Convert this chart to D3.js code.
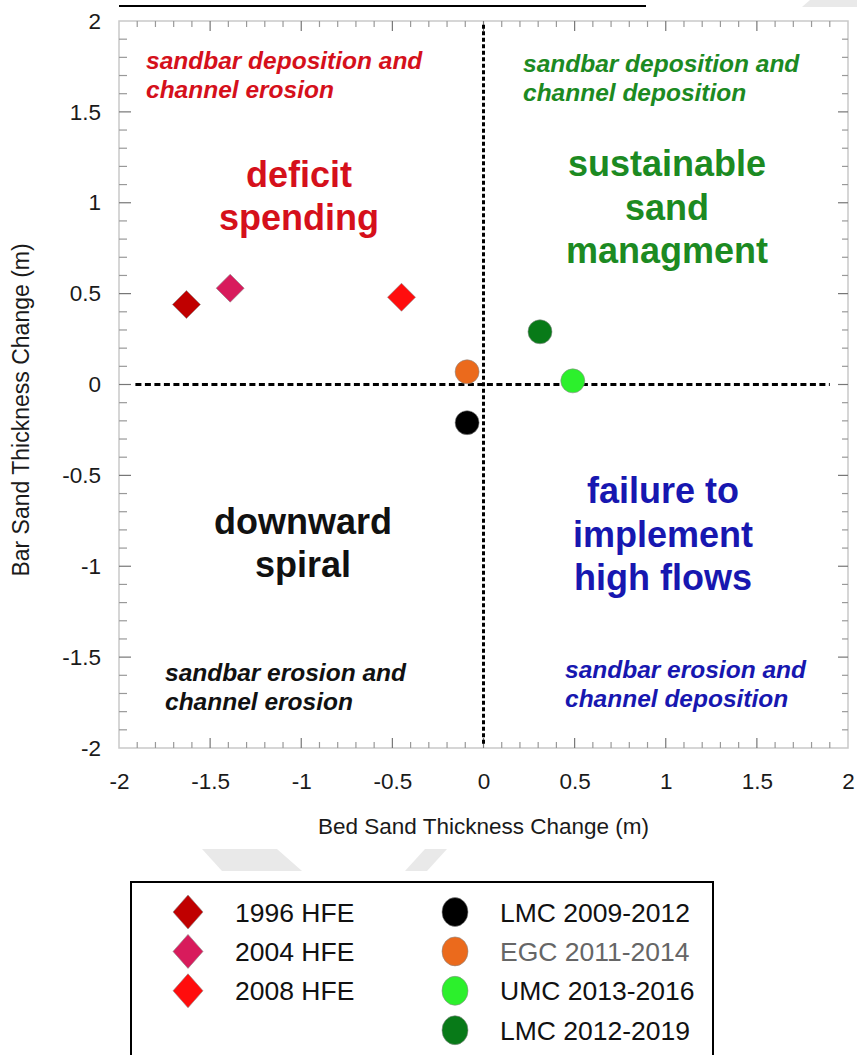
<!DOCTYPE html>
<html>
<head>
<meta charset="utf-8">
<script src="https://cdn.jsdelivr.net/npm/d3@7/dist/d3.min.js"></script>
<style>
  html, body { margin: 0; padding: 0; background: #fff; }
  svg { display: block; font-family: "Liberation Sans", Arial, Helvetica, sans-serif; }
</style>
</head>
<body>
<svg id="chart" width="857" height="1055"></svg>
<script>
// High-flow experiments (diamonds)
const hfeLabels = ["1996 HFE", "2004 HFE", "2008 HFE"];
const hfeBed = [-1.63, -1.39, -0.45];
const hfeBar = [0.44, 0.53, 0.48];

// Monitoring periods (circles)
const periodLabels = ["LMC 2009-2012", "EGC 2011-2014", "UMC 2013-2016", "LMC 2012-2019"];
const periodBed = [-0.09, -0.09, 0.49, 0.31];
const periodBar = [-0.21, 0.07, 0.02, 0.29];

// Axis ticks
const xTickValues = [-2, -1.5, -1, -0.5, 0, 0.5, 1, 1.5, 2];
const xTickLabels = ["-2", "-1.5", "-1", "-0.5", "0", "0.5", "1", "1.5", "2"];
const yTickValues = [2, 1.5, 1, 0.5, 0, -0.5, -1, -1.5, -2];
const yTickLabels = ["2", "1.5", "1", "0.5", "0", "-0.5", "-1", "-1.5", "-2"];

// Quadrant captions
const captionTL = ["sandbar deposition and", "channel erosion"];
const captionTR = ["sandbar deposition and", "channel deposition"];
const captionBL = ["sandbar erosion and", "channel erosion"];
const captionBR = ["sandbar erosion and", "channel deposition"];
const headTL = ["deficit", "spending"];
const headTR = ["sustainable", "sand", "managment"];
const headBL = ["downward", "spiral"];
const headBR = ["failure to", "implement", "high flows"];

const hfeColors = ["#c00000", "#d81b5c", "#ff0d0d"];
const periodColors = ["#000000", "#eb6a1c", "#2cf02c", "#087a18"];
const periodTextColors = ["#111", "#666", "#111", "#111"];

const svg = d3.select("#chart");

const x = d3.scaleLinear().domain([-2, 2]).range([119, 848]);
const y = d3.scaleLinear().domain([-2, 2]).range([748, 21]);

// faint background shapes
const wm = svg.append("g").attr("fill", "#e9e9e9");
wm.append("polygon").attr("points", "810,0 857,0 857,7 802,7");
wm.append("polygon").attr("points", "202,849 277,849 302,871 222,871");
wm.append("polygon").attr("points", "425,849 447,849 427,871 405,871");

// rule above the plot
svg.append("line")
  .attr("x1", 119).attr("x2", 646).attr("y1", 6).attr("y2", 6)
  .attr("stroke", "#000").attr("stroke-width", 2);

// plot frame
svg.append("rect")
  .attr("x", x(-2)).attr("y", y(2))
  .attr("width", x(2) - x(-2)).attr("height", y(-2) - y(2))
  .attr("fill", "none").attr("stroke", "#c9c9c9").attr("stroke-width", 1.5);

// inward tick marks every 0.1, longer at every 0.5
const minor = d3.range(-20, 21).map(i => i / 10);
const isMajor = v => Math.abs(v * 2 - Math.round(v * 2)) < 1e-6;
const tg = svg.append("g");
minor.forEach(v => {
  const maj = isMajor(v);
  const len = maj ? 10 : 6;
  const col = maj ? "#777" : "#999";
  if (v > -2 && v < 2) {
    tg.append("line").attr("x1", x(v)).attr("x2", x(v)).attr("y1", y(-2)).attr("y2", y(-2) - len)
      .attr("stroke", col).attr("stroke-width", 1.2);
    tg.append("line").attr("x1", x(v)).attr("x2", x(v)).attr("y1", y(2)).attr("y2", y(2) + len)
      .attr("stroke", col).attr("stroke-width", 1.2);
    tg.append("line").attr("y1", y(v)).attr("y2", y(v)).attr("x1", x(-2)).attr("x2", x(-2) + len + 2)
      .attr("stroke", col).attr("stroke-width", 1.2);
    tg.append("line").attr("y1", y(v)).attr("y2", y(v)).attr("x1", x(2)).attr("x2", x(2) - len)
      .attr("stroke", col).attr("stroke-width", 1.2);
  }
});

// tick labels through d3 axes
const xAxis = svg.append("g")
  .attr("transform", `translate(0,${y(-2) + 20})`)
  .call(d3.axisBottom(x).tickValues(xTickValues).tickSize(0)
    .tickFormat((d, i) => xTickLabels[i]));
xAxis.select(".domain").remove();
xAxis.selectAll("text").attr("font-size", 22.5).attr("fill", "#1a1a1a")
  .attr("font-family", "Liberation Sans, Arial, sans-serif").attr("dy", "0.8em");

const yAxis = svg.append("g")
  .attr("transform", `translate(${x(-2) - 15},0)`)
  .call(d3.axisLeft(y).tickValues(yTickValues).tickSize(0)
    .tickFormat((d, i) => yTickLabels[i]));
yAxis.select(".domain").remove();
yAxis.selectAll("text").attr("font-size", 22.5).attr("fill", "#1a1a1a")
  .attr("font-family", "Liberation Sans, Arial, sans-serif");

// axis titles
svg.append("text")
  .attr("x", x(0)).attr("y", 834)
  .attr("text-anchor", "middle").attr("font-size", 22.5).attr("fill", "#1a1a1a")
  .text("Bed Sand Thickness Change (m)");
svg.append("text")
  .attr("transform", "translate(29,410) rotate(-90)")
  .attr("text-anchor", "middle").attr("font-size", 23).attr("fill", "#1a1a1a")
  .text("Bar Sand Thickness Change (m)");

// zero reference lines
svg.append("line")
  .attr("x1", x(0)).attr("x2", x(0)).attr("y1", y(1.98)).attr("y2", y(-1.98))
  .attr("stroke", "#000").attr("stroke-width", 3).attr("stroke-dasharray", "4,2.5");
svg.append("line")
  .attr("x1", x(-1.91)).attr("x2", x(1.9)).attr("y1", y(0)).attr("y2", y(0))
  .attr("stroke", "#000").attr("stroke-width", 3).attr("stroke-dasharray", "6,3.5");

// quadrant text
function block(lines, px, py, lh, opts) {
  const t = svg.append("text")
    .attr("font-size", opts.size).attr("font-weight", "bold")
    .attr("font-style", opts.italic ? "italic" : "normal")
    .attr("fill", opts.color).attr("text-anchor", opts.anchor);
  lines.forEach((s, i) => {
    t.append("tspan").attr("x", px).attr("y", py + i * lh).text(s);
  });
}
const red = "#d5101b", green = "#1c8a22", blue = "#1717b0", black = "#111";
block(captionTL, 146, 69, 29, { size: 24.5, italic: true, color: red, anchor: "start" });
block(captionTR, 523, 72, 29, { size: 24.5, italic: true, color: green, anchor: "start" });
block(captionBL, 165, 681, 29, { size: 24.5, italic: true, color: black, anchor: "start" });
block(captionBR, 565, 678, 29, { size: 24.5, italic: true, color: blue, anchor: "start" });
block(headTL, 299, 187, 43, { size: 36, color: red, anchor: "middle" });
block(headTR, 667, 176, 43.5, { size: 36, color: green, anchor: "middle" });
block(headBL, 303, 534, 43, { size: 36, color: black, anchor: "middle" });
block(headBR, 663, 503, 43.5, { size: 36, color: blue, anchor: "middle" });

// marker shapes
const diamond = (h) => `M0,${-h}L${h},0L0,${h}L${-h},0Z`;

// data points
svg.append("g").selectAll("path")
  .data(hfeBed.map((b, i) => ({ bed: b, bar: hfeBar[i], c: hfeColors[i] })))
  .join("path")
  .attr("d", diamond(14))
  .attr("transform", d => `translate(${x(d.bed)},${y(d.bar)})`)
  .attr("fill", d => d.c).attr("stroke", "#8a8a8a").attr("stroke-width", 0.6);

svg.append("g").selectAll("circle")
  .data(periodBed.map((b, i) => ({ bed: b, bar: periodBar[i], c: periodColors[i] })))
  .join("circle")
  .attr("cx", d => x(d.bed)).attr("cy", d => y(d.bar)).attr("r", 12)
  .attr("fill", d => d.c).attr("stroke", "#8a8a8a").attr("stroke-width", 0.6);

// legend
const lg = svg.append("g");
lg.append("rect")
  .attr("x", 131).attr("y", 882).attr("width", 582).attr("height", 200)
  .attr("fill", "#fff").attr("stroke", "#000").attr("stroke-width", 2);
const rowY = i => 912 + i * 39.4;
hfeLabels.forEach((lab, i) => {
  lg.append("path").attr("d", `M0,-17L15,0L0,17L-15,0Z`)
    .attr("transform", `translate(188,${rowY(i)})`)
    .attr("fill", hfeColors[i]).attr("stroke", "#8a8a8a").attr("stroke-width", 0.6);
  lg.append("text").attr("x", 235).attr("y", rowY(i) + 9.5)
    .attr("font-size", 26.5).attr("fill", "#111").text(lab);
});
periodLabels.forEach((lab, i) => {
  lg.append("ellipse").attr("cx", 455).attr("cy", rowY(i)).attr("rx", 13).attr("ry", 14.5)
    .attr("fill", periodColors[i]).attr("stroke", "#8a8a8a").attr("stroke-width", 0.6);
  lg.append("text").attr("x", 500).attr("y", rowY(i) + 9.5)
    .attr("font-size", 26.5).attr("fill", periodTextColors[i]).text(lab);
});
</script>
</body>
</html>
